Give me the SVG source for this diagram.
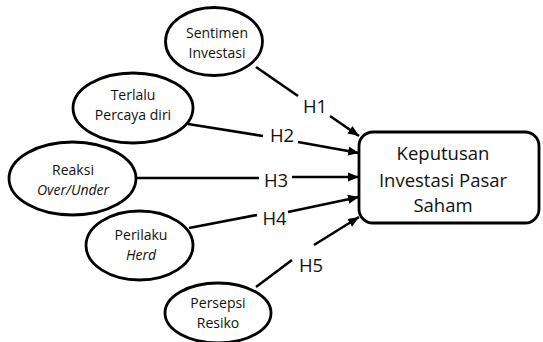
<svg xmlns="http://www.w3.org/2000/svg" width="543" height="342" viewBox="0 0 543 342">
<defs>
<marker id="arr" markerUnits="userSpaceOnUse" markerWidth="12" markerHeight="10" refX="11" refY="5" orient="auto">
<path d="M0,0.5 L11,5 L0,9.5 Z" fill="#000"/>
</marker>
<style>
.n ellipse{fill:#fff;stroke:#000;stroke-width:2.8}
.b rect{fill:#fff;stroke:#000;stroke-width:2.8}
text{font-family:"Open Sans","Noto Sans","Liberation Sans",sans-serif;fill:#111;text-anchor:middle}
.s{font-size:14px}
.l{font-size:18.5px}
.h{font-size:18.5px}
.c line{stroke:#000;stroke-width:2.6}
.i{font-style:italic}
</style>
</defs>
<rect width="543" height="342" fill="#fff"/>
<g class="c" id="connectors">
<line x1="256" y1="67" x2="298" y2="96"/>
<line x1="330" y1="116" x2="359" y2="136" marker-end="url(#arr)"/>
<line x1="188" y1="124" x2="263" y2="136"/>
<line x1="298" y1="142" x2="359" y2="153" marker-end="url(#arr)"/>
<line x1="136" y1="178" x2="259" y2="178"/>
<line x1="292" y1="177" x2="359" y2="177" marker-end="url(#arr)"/>
<line x1="189" y1="228" x2="257" y2="215"/>
<line x1="288" y1="212" x2="359" y2="197" marker-end="url(#arr)"/>
<line x1="256" y1="287" x2="292" y2="260"/>
<line x1="314" y1="245" x2="359" y2="217" marker-end="url(#arr)"/>
<text class="h" x="315" y="113">H1</text>
<text class="h" x="282" y="142">H2</text>
<text class="h" x="276" y="187">H3</text>
<text class="h" x="274.5" y="225">H4</text>
<text class="h" x="311" y="272">H5</text>
</g>
<g class="n" id="sentimen">
<ellipse cx="214" cy="41.5" rx="48.5" ry="34"/>
<text class="s" x="217" y="38">Sentimen</text>
<text class="s" x="217" y="58">Investasi</text>
</g>
<g class="n" id="percaya">
<ellipse cx="133" cy="108" rx="60" ry="35"/>
<text class="s" x="133" y="100">Terlalu</text>
<text class="s" x="133" y="120">Percaya diri</text>
</g>
<g class="n" id="reaksi">
<ellipse cx="72.5" cy="178.5" rx="63.5" ry="36.5"/>
<text class="s" x="73" y="175">Reaksi</text>
<text class="s i" x="73" y="195">Over/Under</text>
</g>
<g class="n" id="herd">
<ellipse cx="139.5" cy="245.5" rx="53.5" ry="34.5"/>
<text class="s" x="141" y="240">Perilaku</text>
<text class="s i" x="141" y="260">Herd</text>
</g>
<g class="n" id="resiko">
<ellipse cx="218" cy="313" rx="53" ry="30"/>
<text class="s" x="218" y="308">Persepsi</text>
<text class="s" x="218" y="328">Resiko</text>
</g>
<g class="b" id="keputusan">
<rect x="359" y="132" width="180" height="91" rx="14" ry="14"/>
<text class="l" x="443" y="160">Keputusan</text>
<text class="l" x="443" y="187">Investasi Pasar</text>
<text class="l" x="443" y="212">Saham</text>
</g>
</svg>
